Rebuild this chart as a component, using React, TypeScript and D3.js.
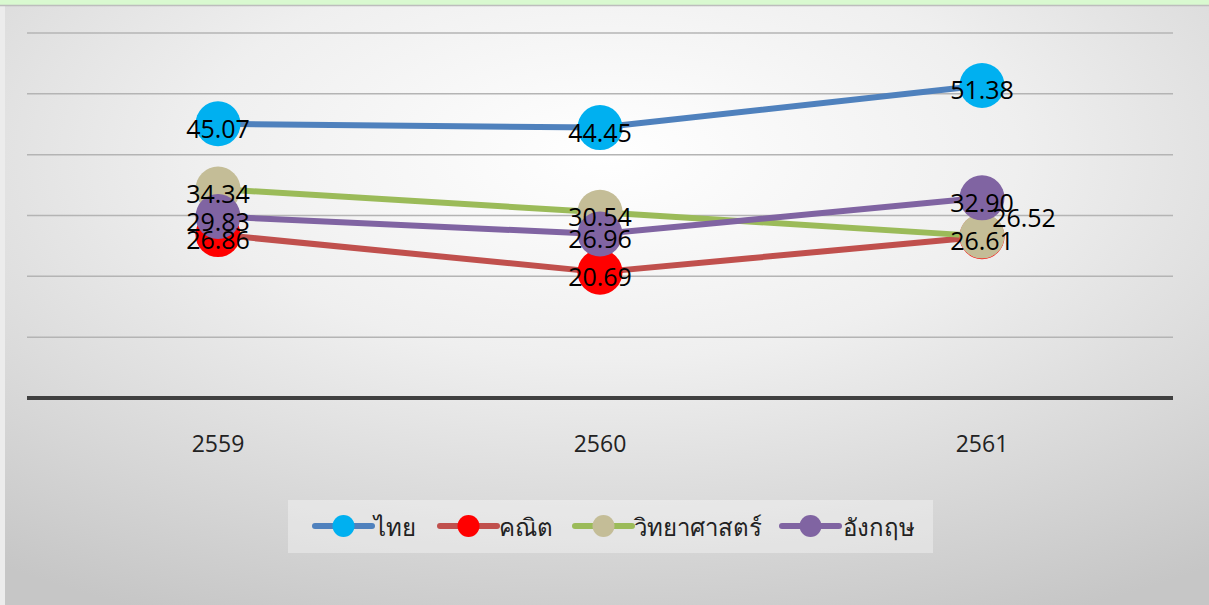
import React from "react";
import * as d3 from "d3";

const years = ["2559", "2560", "2561"];
const seriesNames = ["ไทย", "คณิต", "วิทยาศาสตร์", "อังกฤษ"];
const thai = [45.07, 44.45, 51.38];
const math = [26.86, 20.69, 26.52];
const science = [34.34, 30.54, 26.61];
const english = [29.83, 26.96, 32.9];
const yTicks = [0, 10, 20, 30, 40, 50, 60];

const lineColors = ["#4f81bd", "#c0504d", "#9bbb59", "#8064a2"];
const markerColors = ["#00b0f0", "#ff0000", "#c4bd97", "#8064a2"];
// label offsets (dx, dy) per series per point
const labelOffsets = [
  [[0, 4], [0, 4], [0, 4]],
  [[0, 4], [0, 4], [42, -20]],
  [[0, 4], [0, 4], [0, 4]],
  [[0, 4], [0, 4], [0, 4]],
];

const W = 1209;
const H = 605;
const FONT = "'Open Sans', 'Noto Sans', 'Liberation Sans', sans-serif";

export default function App() {
  const allSeries = [thai, math, science, english];
  const x = d3.scaleBand<string>().domain(years).range([27, 1173]);
  const y = d3.scaleLinear().domain([0, 60]).range([398, 33]);
  const cx = (d: string) => (x(d) as number) + x.bandwidth() / 2;
  const line = d3
    .line<number>()
    .x((_, i) => cx(years[i]))
    .y((v) => y(v));

  const legendX = [315, 440, 575, 782];
  const legendTextX = [374, 499, 634, 843];

  return (
    <svg
      width={W}
      height={H}
      style={{ position: "absolute", left: 0, top: 0, display: "block" }}
    >
      <defs>
        <radialGradient id="bg" cx="50%" cy="25%" r="85%">
          <stop offset="0%" stopColor="#ffffff" />
          <stop offset="40%" stopColor="#efefef" />
          <stop offset="100%" stopColor="#c6c6c6" />
        </radialGradient>
      </defs>
      <rect x={0} y={0} width={W} height={H} fill="#ececec" />
      <rect x={0} y={0} width={W} height={5} fill="#d9f9d0" />
      <rect x={5} y={6} width={W - 5} height={H - 6} fill="url(#bg)" />
      <line x1={0} x2={W} y1={5.5} y2={5.5} stroke="#bdbdbd" strokeWidth={1.5} />

      {yTicks.slice(1).map((t) => (
        <line
          key={t}
          x1={27}
          x2={1173}
          y1={y(t)}
          y2={y(t)}
          stroke="#b4b4b4"
          strokeWidth={1.5}
        />
      ))}
      <line x1={27} x2={1173} y1={y(0)} y2={y(0)} stroke="#404040" strokeWidth={4} />

      {years.map((yr) => (
        <text
          key={yr}
          x={cx(yr)}
          y={443}
          textAnchor="middle"
          dominantBaseline="central"
          fontFamily={FONT}
          fontSize={23}
          fill="#222"
        >
          {yr}
        </text>
      ))}

      {allSeries.map((s, i) => (
        <path
          key={"l" + i}
          d={line(s) || ""}
          fill="none"
          stroke={lineColors[i]}
          strokeWidth={6}
          strokeLinejoin="round"
          strokeLinecap="round"
        />
      ))}
      {allSeries.map((s, i) =>
        s.map((v, j) => (
          <circle
            key={"m" + i + "-" + j}
            cx={cx(years[j])}
            cy={y(v)}
            r={22.5}
            fill={markerColors[i]}
          />
        ))
      )}
      {allSeries.map((s, i) =>
        s.map((v, j) => (
          <text
            key={"t" + i + "-" + j}
            x={cx(years[j]) + labelOffsets[i][j][0]}
            y={y(v) + labelOffsets[i][j][1]}
            textAnchor="middle"
            dominantBaseline="central"
            fontFamily={FONT}
            fontSize={25}
            fill="#000"
          >
            {v.toFixed(2)}
          </text>
        ))
      )}

      <rect x={288} y={500} width={645} height={53} fill="#ffffff" fillOpacity={0.35} />
      {seriesNames.map((n, i) => (
        <g key={n}>
          <line
            x1={legendX[i]}
            x2={legendX[i] + 57}
            y1={526}
            y2={526}
            stroke={lineColors[i]}
            strokeWidth={6}
            strokeLinecap="round"
          />
          <circle cx={legendX[i] + 28.5} cy={526} r={11} fill={markerColors[i]} />
          <text
            x={legendTextX[i]}
            y={526}
            dominantBaseline="central"
            fontFamily={FONT}
            fontSize={24}
            fill="#222"
          >
            {n}
          </text>
        </g>
      ))}
    </svg>
  );
}
